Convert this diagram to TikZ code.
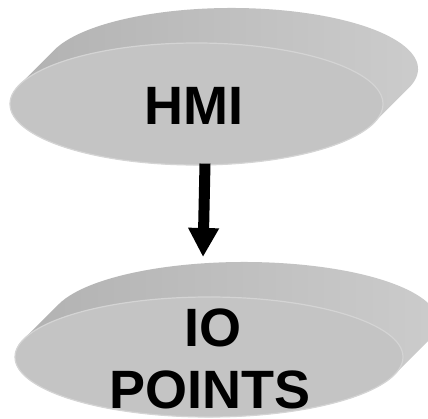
\documentclass[tikz,border=0pt]{standalone}
\usepackage{fontspec}
\setmainfont{Liberation Sans}
\usetikzlibrary{calc,arrows.meta,shapes.geometric}
\definecolor{face}{RGB}{196,196,196}
\definecolor{rim}{RGB}{212,212,212}
\definecolor{sideL}{RGB}{176,176,176}
\definecolor{sideM}{RGB}{156,156,156}
\definecolor{sideR}{RGB}{205,205,205}
\tikzset{
  disc face/.style={ellipse, fill=face, draw=rim, line width=1.2pt, inner sep=0pt},
  disc side/.style={left color=sideL, middle color=sideM, right color=sideR, shading angle=90},
  disc text/.style={font=\bfseries\fontsize{54}{60}\selectfont, inner sep=0pt, anchor=base},
  flow arrow/.style={line width=11pt, -{Triangle[width=29pt,length=29pt]}}
}
\begin{document}
\begin{tikzpicture}[x=1pt,y=1pt]
\clip (0,0) rectangle (428,418);
\fill[white] (0,0) rectangle (428,418);
% top disc
\coordinate (F1) at (196.5,314);
\coordinate (B1) at (231.5,349);
\shade[disc side]
  ($(B1)+(-18.11:186.5 and 61)$) arc[start angle=-18.11, end angle=161.89, x radius=186.5, y radius=61]
  -- ($(F1)+(161.89:186.5 and 61)$) arc[start angle=161.89, end angle=341.89, x radius=186.5, y radius=61]
  -- cycle;
\node[disc face, minimum width=373pt, minimum height=122pt] (hmi) at (F1) {};
\node[disc text] (hmitext) at (194,293) {HMI};
% bottom disc
\coordinate (F2) at (209,61);
\coordinate (B2) at (244,96);
\shade[disc side]
  ($(B2)+(-17.19:194 and 60)$) arc[start angle=-17.19, end angle=162.81, x radius=194, y radius=60]
  -- ($(F2)+(162.81:194 and 60)$) arc[start angle=162.81, end angle=342.81, x radius=194, y radius=60]
  -- cycle;
\node[disc face, minimum width=388pt, minimum height=120pt] (io) at (F2) {};
\node[disc text] (iotext1) at (213,72) {IO};
\node[disc text] (iotext2) at (210,10) {POINTS};
% arrow
\coordinate (arrowtip) at (203,161);
\draw[flow arrow] ($(hmi.south)+(8.5,2)$) -- (arrowtip);
\end{tikzpicture}
\end{document}
